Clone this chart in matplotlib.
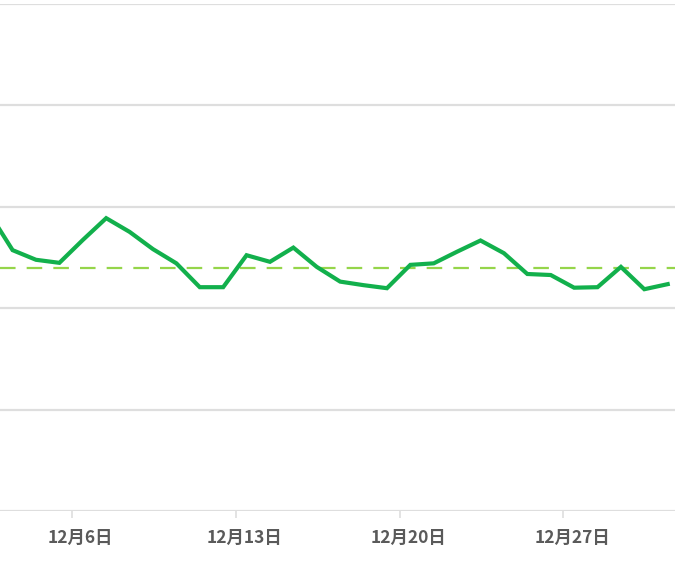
import numpy as np
import pandas as pd
import matplotlib
matplotlib.use('Agg')
import matplotlib.pyplot as plt
import matplotlib.dates as mdates
from matplotlib.ticker import FuncFormatter, NullFormatter

plt.rcParams['font.family'] = ['Noto Sans CJK SC', 'DejaVu Sans']

# daily values, Dec 2 .. Dec 31
dates = pd.date_range('2023-12-02', '2023-12-31', freq='D')
values = [58.7, 51.4, 49.5, 48.9, 53.4, 57.7, 55.0, 51.6, 48.8, 44.1,
          44.1, 50.4, 49.1, 51.9, 48.1, 45.2, 44.5, 43.9, 48.5, 48.8,
          51.1, 53.3, 50.8, 46.7, 46.5, 44.0, 44.1, 48.1, 43.7, 44.7]
avg_value = 47.8
tick_days = [6, 13, 20, 27]
y_grid = [0, 20, 40, 60, 80, 100]

fig = plt.figure(figsize=(6.77, 5.63), dpi=100)
ax = fig.add_axes([0.0, 52 / 563, 675 / 677, 507.5 / 563])

# points sit inside each day's slot
x = dates + pd.Timedelta(hours=11)
ax.plot(x, values, color='#12b04c', lw=3.0, solid_joinstyle='miter', zorder=3)
ax.axhline(avg_value, color='#95d54a', lw=1.6, dashes=(7, 5), zorder=2)

for g in y_grid:
    ax.axhline(g, color='#dedede', lw=1.6, zorder=1)

ax.set_ylim(0, 100)
x0 = mdates.date2num(pd.Timestamp('2023-12-06'))
ax.set_xlim(x0 - 3.08, x0 + 25.77)

# tick marks at day boundaries, labels centred a bit into the day
ax.xaxis.set_minor_locator(mdates.DayLocator(bymonthday=tick_days))
ax.xaxis.set_minor_formatter(NullFormatter())
ax.xaxis.set_major_locator(mdates.HourLocator(byhour=[9]))
label_days = [mdates.date2num(pd.Timestamp(2023, 12, d, 9)) for d in tick_days]
ax.set_xticks(label_days)
ax.set_xticklabels(['12月{}日'.format(d) for d in tick_days])
ax.tick_params(axis='x', which='major', length=0, labelsize=12.5,
               labelcolor='#5a5a5a', pad=13)
ax.tick_params(axis='x', which='minor', length=5, width=1.2, color='#dedede')
for lab in ax.get_xticklabels():
    lab.set_fontweight('bold')
ax.set_yticks([])
for s in ax.spines.values():
    s.set_visible(False)

fig.savefig('out.png', dpi=100)
